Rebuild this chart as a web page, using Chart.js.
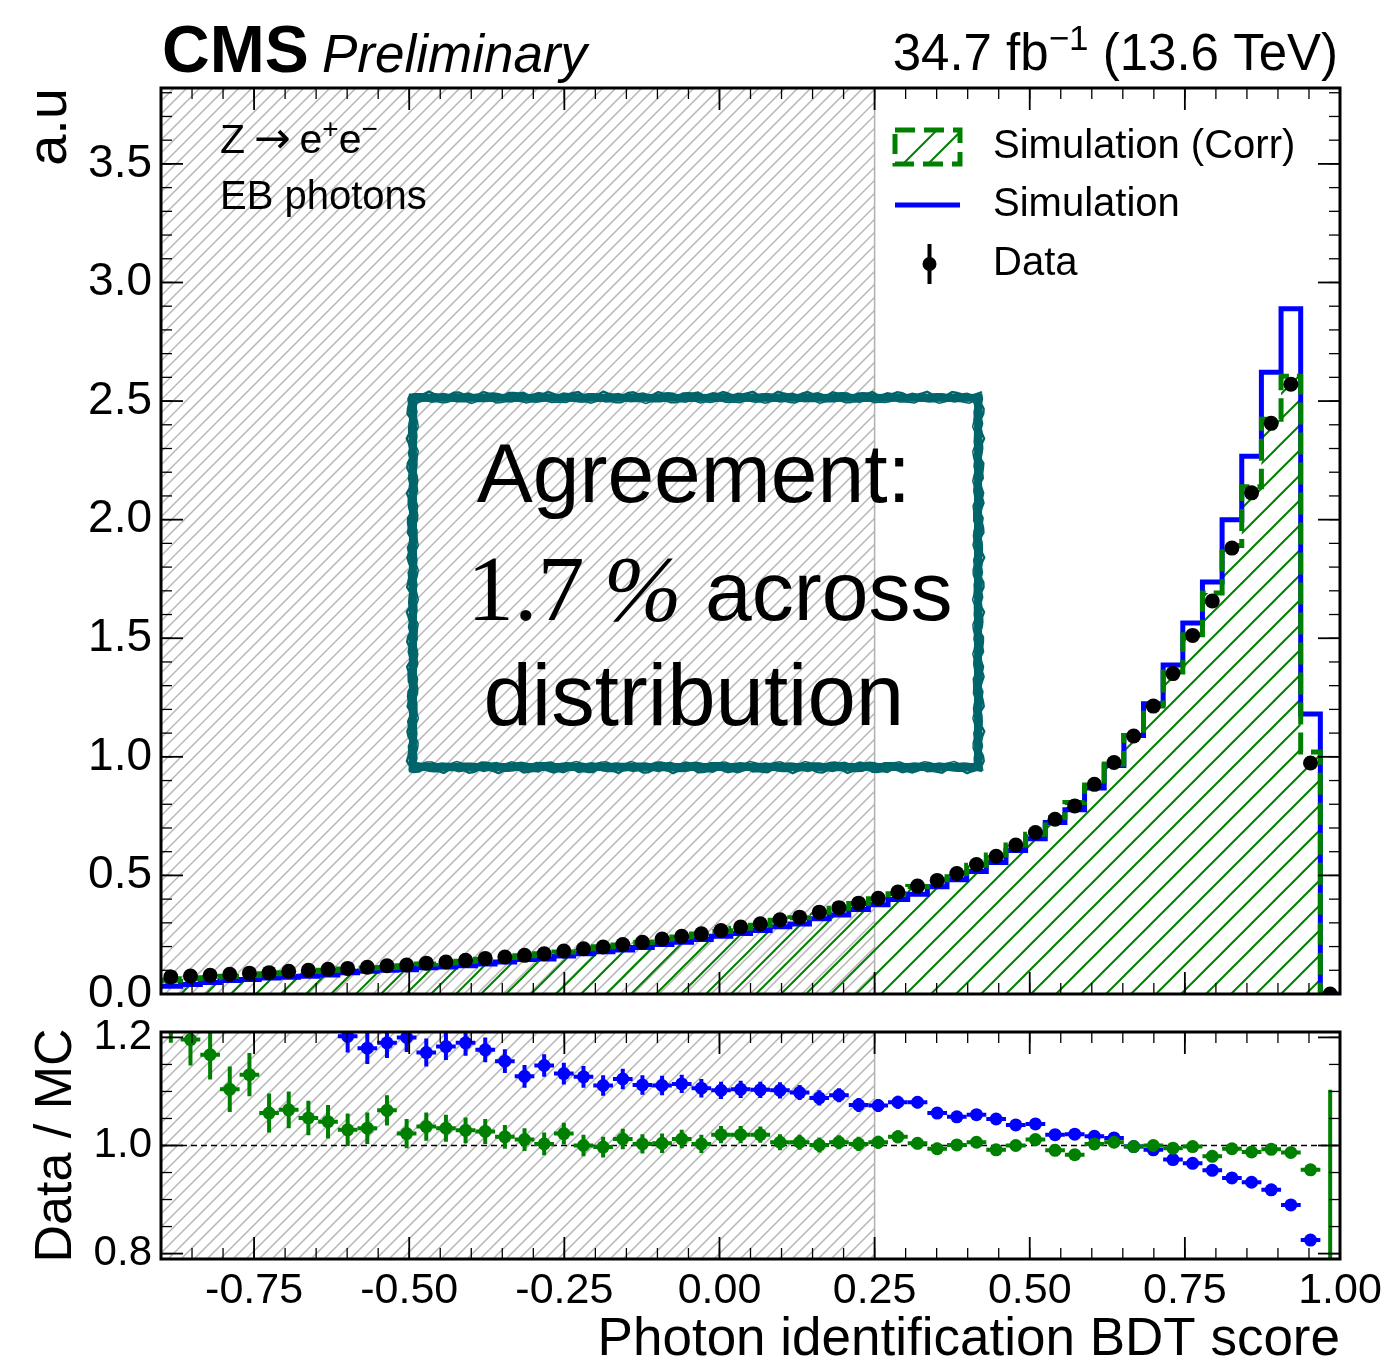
<!DOCTYPE html>
<html>
<head>
<meta charset="utf-8">
<script src="https://cdn.jsdelivr.net/npm/chart.js@4.4.1/dist/chart.umd.min.js"></script>
<style>
  html, body { margin: 0; padding: 0; background: #ffffff; }
  #wrap { position: relative; width: 1388px; height: 1364px; overflow: hidden; }
  #wrap canvas { position: absolute; left: 0; }
  #main { top: 0; }
  #ratio { top: 1000px; }
</style>
</head>
<body>
<div id="wrap">
  <canvas id="main" width="1388" height="1030"></canvas>
  <canvas id="ratio" width="1388" height="364"></canvas>
</div>
<script>
// ---- binning of the photon-ID BDT score ----
const binLow = -0.9;
const binHigh = 1.0;
const nBins = 60;
const binWidth = (binHigh - binLow) / nBins;
const binEdges = Array.from({ length: nBins + 1 }, (_, i) => binLow + i * binWidth);
const binCenters = binEdges.slice(0, -1).map(e => e + binWidth / 2);

// ---- normalised distributions (a.u.) ----
const dataValues = [
  0.072, 0.076, 0.079, 0.083, 0.088, 0.090, 0.096, 0.100, 0.104, 0.108,
  0.113, 0.119, 0.122, 0.130, 0.135, 0.142, 0.150, 0.156, 0.163, 0.170,
  0.181, 0.191, 0.198, 0.209, 0.218, 0.232, 0.243, 0.254, 0.268, 0.282,
  0.296, 0.313, 0.324, 0.345, 0.364, 0.383, 0.404, 0.430, 0.455, 0.479,
  0.508, 0.546, 0.581, 0.628, 0.681, 0.737, 0.793, 0.884, 0.976, 1.088,
  1.214, 1.351, 1.512, 1.657, 1.880, 2.113, 2.406, 2.571, 0.974, 0.000
];
const simNominal = [
  0.033, 0.040, 0.049, 0.057, 0.061, 0.067, 0.071, 0.075, 0.080, 0.090,
  0.096, 0.100, 0.102, 0.111, 0.114, 0.119, 0.127, 0.135, 0.145, 0.148,
  0.160, 0.170, 0.178, 0.186, 0.196, 0.209, 0.218, 0.230, 0.243, 0.255,
  0.268, 0.284, 0.295, 0.317, 0.333, 0.356, 0.376, 0.398, 0.421, 0.452,
  0.482, 0.517, 0.554, 0.605, 0.655, 0.723, 0.777, 0.869, 0.963, 1.090,
  1.224, 1.387, 1.564, 1.737, 2.000, 2.267, 2.621, 2.889, 1.181, 0.000
];
const simCorr = [
  0.058, 0.064, 0.068, 0.075, 0.078, 0.085, 0.090, 0.095, 0.100, 0.105,
  0.110, 0.112, 0.119, 0.126, 0.131, 0.138, 0.146, 0.154, 0.161, 0.170,
  0.177, 0.191, 0.199, 0.207, 0.217, 0.231, 0.240, 0.253, 0.263, 0.277,
  0.290, 0.311, 0.322, 0.345, 0.362, 0.382, 0.402, 0.423, 0.453, 0.482,
  0.508, 0.543, 0.586, 0.628, 0.674, 0.744, 0.807, 0.881, 0.970, 1.090,
  1.214, 1.358, 1.515, 1.691, 1.891, 2.139, 2.423, 2.605, 1.020, 0.001
];

// ---- Data / MC ratios ----
const ratioNominal = [
  2.15, 1.88, 1.60, 1.46, 1.45, 1.35, 1.36, 1.34, 1.30, 1.202,
  1.180, 1.190, 1.200, 1.172, 1.183, 1.190, 1.177, 1.156, 1.128, 1.148,
  1.133, 1.127, 1.111, 1.123, 1.112, 1.111, 1.114, 1.106, 1.102, 1.104,
  1.103, 1.102, 1.098, 1.088, 1.093, 1.075, 1.074, 1.080, 1.080, 1.060,
  1.053, 1.057, 1.049, 1.038, 1.040, 1.020, 1.021, 1.017, 1.014, 0.998,
  0.992, 0.974, 0.967, 0.954, 0.940, 0.932, 0.918, 0.890, 0.825, null
];
const ratioCorr = [
  1.240, 1.196, 1.168, 1.104, 1.131, 1.060, 1.066, 1.051, 1.044, 1.029,
  1.032, 1.065, 1.022, 1.035, 1.032, 1.028, 1.026, 1.016, 1.011, 1.003,
  1.022, 1.000, 0.997, 1.012, 1.003, 1.004, 1.012, 1.003, 1.020, 1.020,
  1.020, 1.006, 1.006, 1.001, 1.006, 1.003, 1.006, 1.016, 1.004, 0.994,
  1.001, 1.006, 0.992, 1.000, 1.011, 0.991, 0.983, 1.003, 1.006, 0.998,
  1.000, 0.995, 0.998, 0.980, 0.994, 0.988, 0.993, 0.987, 0.955, 0.000
];
const ratioErr = [
  0.050, 0.048, 0.046, 0.042, 0.040, 0.036, 0.034, 0.032, 0.031, 0.030,
  0.029, 0.028, 0.027, 0.026, 0.025, 0.024, 0.023, 0.022, 0.021, 0.021,
  0.020, 0.020, 0.019, 0.019, 0.018, 0.018, 0.017, 0.017, 0.016, 0.016,
  0.015, 0.015, 0.014, 0.014, 0.013, 0.013, 0.012, 0.012, 0.011, 0.011,
  0.010, 0.010, 0.009, 0.009, 0.008, 0.008, 0.007, 0.007, 0.006, 0.006,
  0.006, 0.005, 0.005, 0.005, 0.004, 0.004, 0.004, 0.004, 0.006, 1.103
];

// ---- axes ----
const xTicks = [-0.75, -0.5, -0.25, 0.0, 0.25, 0.5, 0.75, 1.0];
const xTickLabels = ['-0.75', '-0.50', '-0.25', '0.00', '0.25', '0.50', '0.75', '1.00'];
const yTicksMain = [0.0, 0.5, 1.0, 1.5, 2.0, 2.5, 3.0, 3.5];
const yTickLabelsMain = ['0.0', '0.5', '1.0', '1.5', '2.0', '2.5', '3.0', '3.5'];
const yTicksRatio = [0.8, 1.0, 1.2];
const yTickLabelsRatio = ['0.8', '1.0', '1.2'];
const yMaxMain = 3.82;
const ratioMin = 0.79, ratioMax = 1.21;
const bdtCut = 0.25;      // region below the cut is hatched
const ratioRef = 1.0;

const SANS = '"Liberation Sans", Arial, Helvetica, sans-serif';
const SERIF = '"Liberation Serif", "DejaVu Serif", serif';
const ARROWFONT = '"DejaVu Sans", sans-serif';
const GREEN = '#008000';
const BLUE = '#0000ff';
const TEAL = '#00656b';

Chart.defaults.font.family = SANS;
Chart.defaults.color = '#000';

function makeHatch(ctx, size, color, width) {
  const c = document.createElement('canvas');
  c.width = size; c.height = size;
  const g = c.getContext('2d');
  g.strokeStyle = color; g.lineWidth = width; g.lineCap = 'square';
  const seg = (x1, y1, x2, y2) => { g.beginPath(); g.moveTo(x1, y1); g.lineTo(x2, y2); g.stroke(); };
  seg(-size * 0.5, size * 1.5, size * 1.5, -size * 0.5);
  seg(-size * 0.5, size * 0.5, size * 0.5, -size * 0.5);
  seg(size * 0.5, size * 1.5, size * 1.5, size * 0.5);
  return ctx.createPattern(c, 'repeat');
}

function stepPoints(values) {
  const pts = values.map((v, i) => ({ x: binEdges[i], y: v }));
  pts.push({ x: binEdges[nBins], y: values[nBins - 1] });
  return pts;
}

function diagonalHatch(ctx, left, top, right, bottom, spacing, color, width) {
  ctx.save();
  ctx.beginPath(); ctx.rect(left, top, right - left, bottom - top); ctx.clip();
  ctx.strokeStyle = color; ctx.lineWidth = width;
  const h = bottom - top;
  ctx.beginPath();
  for (let c = left - h; c < right + spacing; c += spacing) {
    ctx.moveTo(c, bottom); ctx.lineTo(c + h, top);
  }
  ctx.stroke();
  ctx.restore();
}

function drawFrame(chart, xMinorStep, yMajor, yMinorStep) {
  const { ctx, chartArea: a, scales: { x, y } } = chart;
  ctx.save();
  ctx.strokeStyle = '#000';
  const line = (x1, y1, x2, y2, w) => { ctx.lineWidth = w; ctx.beginPath(); ctx.moveTo(x1, y1); ctx.lineTo(x2, y2); ctx.stroke(); };
  const MAJ = 22, MIN = 11;
  const nx = Math.round((x.max - x.min) / xMinorStep);
  for (let k = 0; k <= nx; k++) {
    const v = x.min + k * xMinorStep;
    const px = x.getPixelForValue(v);
    line(px, a.bottom, px, a.bottom - MIN, 1.3);
    line(px, a.top, px, a.top + MIN, 1.3);
  }
  xTicks.forEach(v => {
    const px = x.getPixelForValue(v);
    line(px, a.bottom, px, a.bottom - MAJ, 1.8);
    line(px, a.top, px, a.top + MAJ, 1.8);
  });
  const k0 = Math.ceil(y.min / yMinorStep - 1e-6), k1 = Math.floor(y.max / yMinorStep + 1e-6);
  for (let k = k0; k <= k1; k++) {
    const py = y.getPixelForValue(k * yMinorStep);
    line(a.left, py, a.left + MIN, py, 1.3);
    line(a.right, py, a.right - MIN, py, 1.3);
  }
  yMajor.forEach(v => {
    const py = y.getPixelForValue(v);
    line(a.left, py, a.left + MAJ, py, 1.8);
    line(a.right, py, a.right - MAJ, py, 1.8);
  });
  ctx.lineWidth = 3;
  ctx.strokeRect(a.left, a.top, a.right - a.left, a.bottom - a.top);
  ctx.restore();
}

function cutRegion(chart) {
  const { ctx, chartArea: a, scales: { x } } = chart;
  const xc = x.getPixelForValue(bdtCut);
  diagonalHatch(ctx, a.left, a.top, xc, a.bottom, 13, '#b6b6b6', 1.5);
  ctx.save();
  ctx.strokeStyle = '#b0b0b0'; ctx.lineWidth = 1.5;
  ctx.beginPath(); ctx.moveTo(xc, a.top); ctx.lineTo(xc, a.bottom); ctx.stroke();
  ctx.restore();
}

// text runs with optional superscripts: [{t, font, dy}]
function drawRuns(ctx, runs, x, y, align) {
  let w = 0;
  runs.forEach(r => { ctx.font = r.font; r.w = ctx.measureText(r.t).width; w += r.w; });
  let cx = align === 'right' ? x - w : align === 'center' ? x - w / 2 : x;
  runs.forEach(r => { ctx.font = r.font; ctx.fillText(r.t, cx, y + (r.dy || 0)); cx += r.w; });
}

function roughEdge(ctx, x1, y1, x2, y2, amp, seed) {
  const len = Math.hypot(x2 - x1, y2 - y1);
  const n = Math.ceil(len / 5);
  const nx = -(y2 - y1) / len, ny = (x2 - x1) / len;
  ctx.beginPath();
  for (let k = 0; k <= n; k++) {
    const t = k / n;
    const o = amp * Math.sin(seed + k * 1.7) * Math.cos(seed * 0.5 + k * 0.63);
    const px = x1 + (x2 - x1) * t + nx * o, py = y1 + (y2 - y1) * t + ny * o;
    if (k) ctx.lineTo(px, py); else ctx.moveTo(px, py);
  }
  ctx.stroke();
}

const mainCanvas = document.getElementById('main');
const mainCtx = mainCanvas.getContext('2d');
const greenHatch = makeHatch(mainCtx, 25, GREEN, 2);

const mainDecor = {
  id: 'mainDecor',
  beforeDatasetsDraw(chart) { cutRegion(chart); },
  afterDatasetsDraw(chart) {
    const { ctx, chartArea: a } = chart;
    const W = a.right - a.left, H = a.bottom - a.top;
    ctx.save();
    ctx.fillStyle = '#000';
    ctx.textBaseline = 'alphabetic';

    // process / selection labels
    drawRuns(ctx, [
      { t: 'Z', font: `41px ${SANS}` },
      { t: '\u2009\u2192\u2009', font: `44px ${ARROWFONT}` },
      { t: 'e', font: `41px ${SANS}` },
      { t: '+', font: `28px ${SANS}`, dy: -15 },
      { t: 'e', font: `41px ${SANS}` },
      { t: '\u2212', font: `28px ${SANS}`, dy: -15 }
    ], a.left + 59, a.top + 65, 'left');
    ctx.font = `40px ${SANS}`;
    ctx.fillText('EB photons', a.left + 59, a.top + 121);

    // agreement box
    const bx = a.left + 0.2137 * W, by = a.top + 0.342 * H;
    const bw = 0.4793 * W, bh = 0.4074 * H;
    ctx.strokeStyle = TEAL;
    ctx.lineWidth = 8;
    ctx.strokeRect(bx, by, bw, bh);
    ctx.lineWidth = 2.5;
    roughEdge(ctx, bx - 4, by - 4, bx + bw + 4, by - 4, 2.2, 1);
    roughEdge(ctx, bx + bw + 4, by - 4, bx + bw + 4, by + bh + 4, 2.2, 2);
    roughEdge(ctx, bx + bw + 4, by + bh + 4, bx - 4, by + bh + 4, 2.2, 3);
    roughEdge(ctx, bx - 4, by + bh + 4, bx - 4, by - 4, 2.2, 4);
    ctx.lineWidth = 1.5;
    roughEdge(ctx, bx + 4, by + 4, bx + bw - 4, by + 4, 1.5, 5);
    roughEdge(ctx, bx + bw - 4, by + 4, bx + bw - 4, by + bh - 4, 1.5, 6);
    roughEdge(ctx, bx + bw - 4, by + bh - 4, bx + 4, by + bh - 4, 1.5, 7);
    roughEdge(ctx, bx + 4, by + bh - 4, bx + 4, by + 4, 1.5, 8);

    const tx = bx + bw * 0.497;
    ctx.fillStyle = '#000';
    ctx.font = `84px ${SANS}`;
    ctx.textAlign = 'center';
    ctx.fillText('Agreement:', tx, by + 104);
    ctx.textAlign = 'left';
    drawRuns(ctx, [
      { t: '1.7', font: `94px ${SERIF}` },
      { t: '\u2009', font: `94px ${SERIF}` },
      { t: '%', font: `italic 94px ${SERIF}` },
      { t: ' across', font: `84px ${SANS}` }
    ], tx + 16, by + 222, 'center');
    ctx.textAlign = 'center';
    ctx.font = `87px ${SANS}`;
    ctx.fillText('distribution', tx, by + 327);
    ctx.textAlign = 'left';

    // legend
    const hx = a.right - 445, hw = 65, tx2 = a.right - 347;
    const rows = [a.top + 59, a.top + 117, a.top + 176];
    // corrected simulation: hatched patch with dashed outline
    ctx.save();
    ctx.beginPath(); ctx.rect(hx, rows[0] - 17, hw, 34); ctx.clip();
    ctx.strokeStyle = GREEN; ctx.lineWidth = 2;
    ctx.beginPath();
    ctx.moveTo(hx + 8, rows[0] + 17); ctx.lineTo(hx + 42, rows[0] - 17);
    ctx.moveTo(hx + 33, rows[0] + 17); ctx.lineTo(hx + 67, rows[0] - 17);
    ctx.stroke();
    ctx.restore();
    ctx.strokeStyle = GREEN; ctx.lineWidth = 5; ctx.setLineDash([20, 9]); ctx.lineJoin = 'miter';
    ctx.strokeRect(hx, rows[0] - 17, hw, 34);
    ctx.setLineDash([]);
    // nominal simulation: solid line
    ctx.strokeStyle = BLUE; ctx.lineWidth = 5;
    ctx.beginPath(); ctx.moveTo(hx, rows[1]); ctx.lineTo(hx + hw, rows[1]); ctx.stroke();
    // data: marker with error bar
    ctx.strokeStyle = '#000'; ctx.lineWidth = 4;
    ctx.beginPath(); ctx.moveTo(hx + hw / 2 + 2, rows[2] - 20); ctx.lineTo(hx + hw / 2 + 2, rows[2] + 20); ctx.stroke();
    ctx.fillStyle = '#000';
    ctx.beginPath(); ctx.arc(hx + hw / 2 + 2, rows[2], 7, 0, Math.PI * 2); ctx.fill();
    ctx.font = `40px ${SANS}`;
    ctx.textBaseline = 'middle';
    ctx.fillText('Simulation (Corr)', tx2, rows[0]);
    ctx.fillText('Simulation', tx2, rows[1]);
    ctx.fillText('Data', tx2, rows[2]);
    ctx.restore();
  },
  afterDraw(chart) {
    drawFrame(chart, 0.05, yTicksMain, 0.1);
    const { ctx, chartArea: a } = chart;
    ctx.save();
    ctx.fillStyle = '#000';
    ctx.textBaseline = 'alphabetic';
    ctx.font = `bold 66px ${SANS}`;
    ctx.fillText('CMS', a.left + 1, 72);
    ctx.font = `italic 53px ${SANS}`;
    ctx.fillText('Preliminary', a.left + 161, 72);
    drawRuns(ctx, [
      { t: '34.7 fb', font: `51px ${SANS}` },
      { t: '\u22121', font: `35px ${SANS}`, dy: -20 },
      { t: ' (13.6 TeV)', font: `51px ${SANS}` }
    ], a.right - 2, 70, 'right');
    ctx.restore();
  }
};

new Chart(mainCtx, {
  type: 'line',
  data: {
    datasets: [
      {
        type: 'scatter', label: 'Data',
        data: binCenters.map((x, i) => ({ x, y: dataValues[i] })),
        showLine: false, pointRadius: 7.5, pointBackgroundColor: '#000', pointBorderWidth: 0, clip: 0
      },
      {
        label: 'Simulation (Corr)', data: stepPoints(simCorr), stepped: 'before',
        borderColor: GREEN, borderWidth: 5, borderDash: [22, 8], borderJoinStyle: 'miter',
        pointRadius: 0, fill: false, clip: 0
      },
      {
        label: 'Simulation', data: stepPoints(simNominal), stepped: 'before',
        borderColor: BLUE, borderWidth: 5, borderJoinStyle: 'miter',
        pointRadius: 0, fill: false, clip: 0
      },
      {
        label: 'Simulation (Corr) fill', data: stepPoints(simCorr), stepped: 'before',
        borderWidth: 0, borderColor: 'rgba(0,0,0,0)', backgroundColor: greenHatch,
        fill: 'origin', pointRadius: 0, clip: 0
      }
    ]
  },
  options: {
    responsive: false, animation: false, devicePixelRatio: 1, events: [],
    layout: { padding: { top: 88, right: 48, bottom: 0, left: 0 } },
    plugins: { legend: { display: false }, tooltip: { enabled: false } },
    scales: {
      x: {
        type: 'linear', min: binLow, max: binHigh,
        grid: { display: false, drawTicks: false }, border: { display: false },
        ticks: { display: false },
        afterBuildTicks: s => { s.ticks = xTicks.map(v => ({ value: v })); },
        afterFit: s => { s.height = 36; s.paddingLeft = 0; s.paddingRight = 0; }
      },
      y: {
        type: 'linear', min: 0, max: yMaxMain,
        grid: { display: false, drawTicks: false }, border: { display: false },
        ticks: { font: { size: 46 }, color: '#000', padding: 9, callback: (v, i) => yTickLabelsMain[i] },
        afterBuildTicks: s => { s.ticks = yTicksMain.map(v => ({ value: v })); },
        afterFit: s => { s.width = 161; s.paddingTop = 0; s.paddingBottom = 0; },
        title: { display: true, text: 'a.u', align: 'end', color: '#000', font: { size: 56, lineHeight: 1.0 }, padding: { top: 23, bottom: 0 } }
      }
    }
  },
  plugins: [mainDecor]
});

// ---- ratio panel ----
const ratioCtx = document.getElementById('ratio').getContext('2d');

const ratioDecor = {
  id: 'ratioDecor',
  beforeDatasetsDraw(chart) {
    cutRegion(chart);
    const { ctx, chartArea: a, scales: { y } } = chart;
    const py = y.getPixelForValue(ratioRef);
    ctx.save();
    ctx.strokeStyle = '#000'; ctx.lineWidth = 1.5; ctx.setLineDash([6, 4]);
    ctx.beginPath(); ctx.moveTo(a.left, py); ctx.lineTo(a.right, py); ctx.stroke();
    ctx.restore();
  },
  beforeDatasetDraw(chart, args) {
    const ds = chart.data.datasets[args.index];
    if (!ds.errY) return;
    const { ctx, chartArea: a, scales: { x, y } } = chart;
    ctx.save();
    ctx.beginPath(); ctx.rect(a.left, a.top, a.right - a.left, a.bottom - a.top); ctx.clip();
    ctx.strokeStyle = ds.pointBackgroundColor; ctx.lineWidth = 4;
    ds.data.forEach((p, i) => {
      if (p.y === null || p.y === undefined) return;
      const xl = x.getPixelForValue(binEdges[i]), xr = x.getPixelForValue(binEdges[i + 1]);
      const xm = x.getPixelForValue(p.x), ym = y.getPixelForValue(p.y);
      const yt = y.getPixelForValue(p.y + ds.errY[i]), yb = y.getPixelForValue(p.y - ds.errY[i]);
      ctx.beginPath();
      ctx.moveTo(xl, ym); ctx.lineTo(xr, ym);
      ctx.moveTo(xm, yt); ctx.lineTo(xm, yb);
      ctx.stroke();
    });
    ctx.restore();
  },
  afterDraw(chart) { drawFrame(chart, 0.05, yTicksRatio, 0.05); }
};

new Chart(ratioCtx, {
  type: 'scatter',
  data: {
    datasets: [
      {
        label: 'Data / Simulation (Corr)',
        data: binCenters.map((x, i) => ({ x, y: ratioCorr[i] })),
        errY: ratioErr,
        pointRadius: 6.5, pointBackgroundColor: GREEN, pointBorderWidth: 0, clip: 0
      },
      {
        label: 'Data / Simulation',
        data: binCenters.map((x, i) => ({ x, y: ratioNominal[i] })),
        errY: ratioErr,
        pointRadius: 6.5, pointBackgroundColor: BLUE, pointBorderWidth: 0, clip: 0
      }
    ]
  },
  options: {
    responsive: false, animation: false, devicePixelRatio: 1, events: [],
    layout: { padding: { top: 32, right: 48, bottom: 0, left: 0 } },
    plugins: { legend: { display: false }, tooltip: { enabled: false } },
    scales: {
      x: {
        type: 'linear', min: binLow, max: binHigh,
        grid: { display: false, drawTicks: false }, border: { display: false },
        ticks: { font: { size: 43 }, color: '#000', padding: 6, maxRotation: 0, autoSkip: false, callback: (v, i) => xTickLabels[i] },
        afterBuildTicks: s => { s.ticks = xTicks.map(v => ({ value: v })); },
        afterFit: s => { s.height = 105; s.paddingLeft = 0; s.paddingRight = 0; },
        title: { display: true, text: 'Photon identification BDT score', align: 'end', color: '#000', font: { size: 53, lineHeight: 1.0 }, padding: { top: 0, bottom: -3 } }
      },
      y: {
        type: 'linear', min: ratioMin, max: ratioMax,
        grid: { display: false, drawTicks: false }, border: { display: false },
        ticks: { font: { size: 42 }, color: '#000', padding: 9, callback: (v, i) => yTickLabelsRatio[i] },
        afterBuildTicks: s => { s.ticks = yTicksRatio.map(v => ({ value: v })); },
        afterFit: s => { s.width = 161; s.paddingTop = 0; s.paddingBottom = 0; },
        title: { display: true, text: 'Data / MC', align: 'center', color: '#000', font: { size: 52, lineHeight: 1.0 }, padding: { top: 31, bottom: 0 } }
      }
    }
  },
  plugins: [ratioDecor]
});
</script>
</body>
</html>
